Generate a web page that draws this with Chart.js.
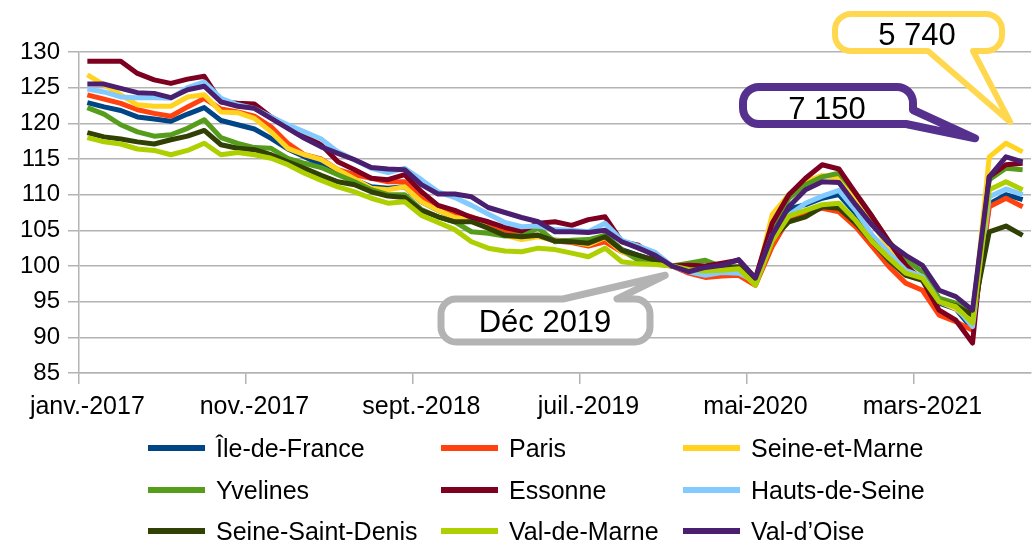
<!DOCTYPE html>
<html><head><meta charset="utf-8">
<script src="https://cdn.jsdelivr.net/npm/chart.js@4"></script>
<style>
html,body{margin:0;padding:0;background:#fff;}
#wrap{position:relative;width:1036px;height:541px;overflow:hidden;font-family:"Liberation Sans",Arial,sans-serif;}
#c{position:absolute;left:0;top:0;}
.leg{position:absolute;height:30px;display:flex;align-items:center;font-size:25px;color:#000;white-space:nowrap;}
.leg i{display:inline-block;width:57px;height:6px;margin-right:11px;}
</style></head>
<body><div id="wrap"><canvas id="c" width="1036" height="541"></canvas><div id="legend"></div></div>
<script>
const FONT = '"Liberation Sans", Arial, sans-serif';
const monthNames = ['janv.','févr.','mars','avr.','mai','juin','juil.','août','sept.','oct.','nov.','déc.'];
const years = [2017, 2018, 2019, 2020, 2021];
const nMonths = 57; // janv.-2017 .. sept.-2021
const categories = [];
for (let k = 0; k < nMonths; k++) categories.push(monthNames[k % 12] + '-' + years[Math.floor(k / 12)]);

const yTicks = [85, 90, 95, 100, 105, 110, 115, 120, 125, 130];

const ileDeFrance = [122.9,122.3,121.8,120.9,120.6,120.3,121.3,122.2,120.4,119.8,119.2,117.9,116.4,115.3,114.2,113.2,112.1,111.1,110.9,111.1,109.0,107.8,106.8,106.4,105.6,104.8,104.3,104.3,103.6,103.5,103.2,104.3,102.3,101.5,100.8,100.0,99.2,98.8,99.0,99.2,97.6,104.0,108.0,108.6,109.5,110.0,107.4,104.0,101.5,99.2,98.2,94.8,94.0,91.2,108.7,110.0,109.3];
const paris = [124.0,123.4,122.8,121.9,121.4,121.0,122.3,123.5,122.0,121.6,121.0,119.5,117.2,115.6,115.0,113.5,112.8,112.3,111.8,111.8,109.5,107.9,107.4,106.9,106.0,105.1,104.3,104.3,103.5,103.3,102.8,103.4,102.0,101.2,100.5,100.0,99.0,98.4,98.6,98.7,97.3,102.7,106.7,107.4,108.1,107.6,105.5,102.7,99.9,97.6,96.6,93.1,92.2,91.0,108.3,109.5,108.3];
const seineEtMarne = [126.8,125.4,124.0,122.6,122.4,122.4,123.7,124.0,121.6,121.5,120.7,118.8,116.5,115.6,114.9,113.5,112.2,110.9,110.7,111.1,109.0,107.8,106.8,106.5,105.3,104.3,103.7,104.1,103.6,103.4,103.0,104.0,102.0,101.0,100.6,100.0,99.3,99.0,99.3,99.5,97.5,107.2,110.0,111.8,112.7,112.3,109.3,106.0,102.5,99.5,98.5,95.0,94.0,92.0,115.3,117.2,116.0];
const yvelines = [122.2,121.3,119.8,118.8,118.2,118.4,119.3,120.5,118.0,117.2,116.6,116.5,115.1,114.4,113.8,112.8,111.8,110.7,110.0,110.0,107.9,106.9,106.2,104.8,104.6,104.2,104.3,105.3,103.4,103.6,103.7,104.3,102.3,100.8,100.3,100.0,100.4,100.8,99.9,99.8,97.7,105.0,109.5,111.4,112.5,113.0,110.2,106.9,103.4,100.8,99.2,95.5,94.8,93.4,112.1,113.7,113.5];
const essonne = [128.7,128.7,128.7,127.0,126.1,125.6,126.2,126.6,123.0,122.8,122.7,120.9,119.6,118.2,117.0,114.6,113.5,112.3,112.1,112.8,110.4,108.5,107.8,106.8,106.2,105.4,104.9,106.0,106.2,105.7,106.5,106.9,103.4,102.9,101.3,100.0,100.1,100.0,100.4,100.8,98.3,106.0,110.0,112.3,114.2,113.6,110.2,106.9,103.4,100.1,98.0,93.8,92.4,89.2,112.5,114.2,114.4];
const hautsDeSeine = [124.8,124.4,123.7,123.6,123.6,123.5,125.0,125.8,123.5,122.6,122.1,120.9,119.8,118.8,117.8,116.0,114.9,113.7,113.1,113.7,112.1,110.4,109.6,108.5,107.3,106.1,105.5,105.6,105.1,105.0,104.8,106.0,103.6,102.8,101.9,100.0,99.2,98.7,99.1,99.0,97.8,104.3,107.1,108.8,109.8,110.6,107.8,104.3,101.8,99.4,98.5,95.0,94.3,91.5,109.7,110.8,110.0];
const seineSaintDenis = [118.7,118.1,117.8,117.4,117.1,117.7,118.2,119.0,117.0,116.5,116.3,115.6,114.6,113.7,112.7,111.8,111.4,110.4,109.8,109.6,107.8,106.9,106.2,106.2,105.3,104.3,104.1,104.3,103.5,103.4,103.2,104.1,102.2,101.5,100.8,100.0,99.5,99.6,99.8,99.9,97.5,103.8,106.2,106.9,108.3,108.1,106.0,103.4,100.8,98.7,98.0,95.0,94.4,93.1,104.8,105.6,104.3];
const valDeMarne = [118.0,117.4,117.1,116.4,116.2,115.6,116.2,117.2,115.6,115.9,115.6,115.1,114.2,113.0,112.0,111.1,110.4,109.5,108.8,109.0,107.1,106.1,105.1,103.4,102.5,102.1,102.0,102.5,102.3,101.8,101.3,102.5,100.6,100.3,100.2,100.0,99.5,99.3,99.4,99.6,97.3,103.5,107.0,107.8,108.6,108.8,106.4,103.4,101.1,99.0,98.3,95.0,94.3,92.0,110.7,111.8,110.7];
const valDOise = [125.5,125.5,124.9,124.3,124.2,123.6,124.7,125.2,123.0,122.4,122.1,120.7,119.3,117.9,116.7,115.8,114.9,113.8,113.6,113.5,111.4,110.1,110.1,109.7,108.2,107.5,106.8,106.2,104.8,104.8,104.7,105.0,103.4,102.5,101.5,100.0,99.2,99.8,100.1,100.9,98.3,104.3,108.3,110.7,111.8,111.7,108.6,105.7,103.2,101.5,100.1,96.6,95.7,93.8,112.5,115.3,114.6];

const seriesNames = ['Île-de-France','Paris','Seine-et-Marne','Yvelines','Essonne','Hauts-de-Seine','Seine-Saint-Denis','Val-de-Marne','Val-d’Oise'];
const seriesValues = [ileDeFrance, paris, seineEtMarne, yvelines, essonne, hautsDeSeine, seineSaintDenis, valDeMarne, valDOise];
const seriesColors = ['#004586','#ff420e','#ffd320','#579d1c','#7e0021','#83caff','#314004','#aecf00','#4b1f6f'];

// Callout annotations: text + tip anchored to data (category index, value)
const callouts = [
  {text:'Déc 2019', color:'#b3b3b3', width:7, box:[441,299,650,342], r:15, side:'top', a:563, b:617, tip:[34.6, 98.7], tx:545, ty:322},
  {text:'7 150', color:'#55308d', width:8, box:[743,87,913,124], r:16, side:'corner-br', a:110, b:906, tip:[53.15, 117.9], tx:827, ty:109},
  {text:'5 740', color:'#ffd84f', width:6, box:[835,14,1002,51], r:16, side:'bottom', a:928, b:973, tip:[55.25, 120.2], tx:917, ty:35}
];

// HTML legend (3 columns)
const legCols = [148, 441, 683];
const legRows = [448, 490, 531];
const legend = document.getElementById('legend');
seriesNames.forEach((n, i) => {
  const d = document.createElement('div');
  d.className = 'leg';
  d.style.left = legCols[i % 3] + 'px';
  d.style.top = (legRows[Math.floor(i / 3)] - 15) + 'px';
  d.innerHTML = '<i style="background:' + seriesColors[i] + '"></i><span></span>';
  d.querySelector('span').textContent = n;
  legend.appendChild(d);
});

const calloutPlugin = {
  id: 'callouts',
  afterDraw(chart) {
    const ctx = chart.ctx;
    const xs = chart.scales.x, ys = chart.scales.y;
    callouts.forEach(c => {
      const [x0, y0, x1, y1] = c.box;
      const r = c.r;
      const tx = xs.getPixelForValue(c.tip[0]);
      const ty = ys.getPixelForValue(c.tip[1]);
      ctx.save();
      ctx.beginPath();
      ctx.moveTo(x0 + r, y0);
      if (c.side === 'top') { ctx.lineTo(c.a, y0); ctx.lineTo(tx, ty); ctx.lineTo(c.b, y0); }
      ctx.lineTo(x1 - r, y0);
      ctx.arcTo(x1, y0, x1, y0 + r, r);
      if (c.side === 'corner-br') {
        ctx.lineTo(x1, c.a); ctx.lineTo(tx, ty); ctx.lineTo(c.b, y1);
      } else {
        ctx.lineTo(x1, y1 - r);
        ctx.arcTo(x1, y1, x1 - r, y1, r);
      }
      if (c.side === 'bottom') { ctx.lineTo(c.b, y1); ctx.lineTo(tx, ty); ctx.lineTo(c.a, y1); }
      ctx.lineTo(x0 + r, y1);
      ctx.arcTo(x0, y1, x0, y1 - r, r);
      ctx.lineTo(x0, y0 + r);
      ctx.arcTo(x0, y0, x0 + r, y0, r);
      ctx.closePath();
      ctx.fillStyle = '#ffffff';
      ctx.fill();
      ctx.lineJoin = 'round';
      ctx.lineWidth = c.width;
      ctx.strokeStyle = c.color;
      ctx.stroke();
      ctx.fillStyle = '#000';
      ctx.font = '31px ' + FONT;
      ctx.textAlign = 'center';
      ctx.textBaseline = 'middle';
      ctx.fillText(c.text, c.tx, c.ty + 1);
      ctx.restore();
    });
  }
};

const GRID = '#b3b3b3';
new Chart(document.getElementById('c'), {
  type: 'line',
  data: {
    labels: categories,
    datasets: seriesNames.map((n, i) => ({
      label: n, data: seriesValues[i], borderColor: seriesColors[i], backgroundColor: seriesColors[i],
      borderWidth: 5, pointRadius: 0, pointHoverRadius: 0, tension: 0, fill: false,
      borderJoinStyle: 'round', order: seriesNames.length - i
    }))
  },
  options: {
    responsive: false, animation: false,
    layout: {padding: {top: 52, right: 5, left: 0, bottom: 0}},
    plugins: {legend: {display: false}, tooltip: {enabled: false}, title: {display: false}},
    scales: {
      x: {
        offset: true,
        grid: {offset: true, drawOnChartArea: false, drawTicks: true, tickLength: 11, lineWidth: 1.5,
               color: c => (c.index % 10 === 0 && c.index < nMonths) ? GRID : 'rgba(0,0,0,0)'},
        border: {display: true, color: GRID, width: 1.5},
        ticks: {autoSkip: false, maxRotation: 0, minRotation: 0, padding: 8, color: '#000',
                font: {family: FONT, size: 25},
                callback: (v, i) => (i % 10 === 0 ? categories[i] : '')},
        afterFit: s => { s.height = 168; }
      },
      y: {
        min: 85, max: 130,
        afterBuildTicks: s => { s.ticks = yTicks.map(v => ({value: v})); },
        grid: {color: GRID, lineWidth: 1.5, tickLength: 11},
        border: {display: true, color: GRID, width: 1.5},
        ticks: {padding: 8, color: '#000', font: {family: FONT, size: 24}},
        afterFit: s => { s.width = 79; }
      }
    }
  },
  plugins: [calloutPlugin]
});
</script>
</body></html>
